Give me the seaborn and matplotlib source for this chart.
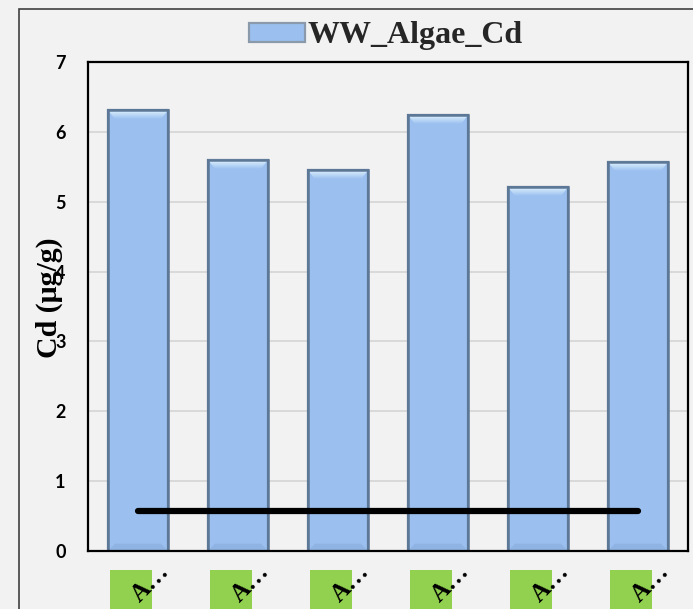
import numpy as np
import pandas as pd
import matplotlib
matplotlib.use("Agg")
import matplotlib.pyplot as plt
from matplotlib.patches import Rectangle, Polygon
from matplotlib.transforms import ScaledTranslation, blended_transform_factory
import seaborn as sns

# Cd concentration in algae (wet weight), one bar per site
site_labels = ["A…", "A…", "A…", "A…", "A…", "A…"]
cd_values = [6.31, 5.60, 5.45, 6.24, 5.21, 5.57]
series_name = "WW_Algae_Cd"
limit_value = 0.57
y_ticks = [0, 1, 2, 3, 4, 5, 6, 7]

bg = "#f2f2f2"
bar_fill = "#9bc0f0"
bar_edge = "#5c7896"

sns.set_theme(style="white")
plt.rcParams["font.family"] = ["Liberation Serif", "DejaVu Serif"]

fig = plt.figure(figsize=(6.93, 6.09), dpi=100, facecolor=bg)
ax = fig.add_axes([88 / 693, 1 - 551 / 609, 600 / 693, 489 / 609])
ax.set_facecolor(bg)

df = pd.DataFrame({"site": np.arange(len(cd_values)), "cd": cd_values})
sns.barplot(data=df, x="site", y="cd", ax=ax, color=bar_fill, width=0.6,
            edgecolor=bar_edge, linewidth=1.6, saturation=1, label=series_name,
            zorder=3)

ax.set_xlim(-0.5, len(cd_values) - 0.5)
ax.set_ylim(0, 7)

# bevelled highlight along the top of each bar
grad = np.linspace(0, 1, 64).reshape(-1, 1)
hi_cmap = matplotlib.colors.LinearSegmentedColormap.from_list(
    "bevel", ["#e8f8ff", bar_fill])
band = 0.13
for p in list(ax.patches):
    p.set_facecolor(bar_fill)
    x0, w, h = p.get_x(), p.get_width(), p.get_height()
    inset = 0.07
    poly = Polygon([(x0, h), (x0 + w, h), (x0 + w - inset, h - band),
                    (x0 + inset, h - band)], closed=True,
                   transform=ax.transData, facecolor="none", edgecolor="none")
    ax.add_patch(poly)
    im = ax.imshow(grad, cmap=hi_cmap, aspect="auto",
                   extent=(x0, x0 + w, h - band, h), origin="upper",
                   zorder=3.5, interpolation="bilinear")
    im.set_clip_path(poly)
    # darker shading at the foot of the bar
    foot = Polygon([(x0 + inset, band * 0.8), (x0 + w - inset, band * 0.8),
                    (x0 + w, 0), (x0, 0)], closed=True,
                   facecolor="#8fb3e2", edgecolor="none", zorder=3.4)
    ax.add_patch(foot)
    ax.add_patch(Rectangle((x0, 0), w, h, facecolor="none",
                           edgecolor=bar_edge, lw=1.8, zorder=3.6))

ax.set_xlim(-0.5, len(cd_values) - 0.5)
ax.set_ylim(0, 7)

# threshold line across the sites
ax.plot([0, len(cd_values) - 1], [limit_value, limit_value], color="black",
        lw=4.5, solid_capstyle="round", zorder=4)

ax.set_yticks(y_ticks)
ax.yaxis.grid(True, color="#d4d4d4", lw=1.2, zorder=0)
ax.set_axisbelow(True)
for s in ax.spines.values():
    s.set_visible(True)
    s.set_color("black")
    s.set_linewidth(1.6)
    s.set_zorder(5)

ax.tick_params(axis="both", length=0)
ax.tick_params(axis="y", pad=16)
ax.tick_params(axis="x", pad=12)
for t in ax.get_yticklabels():
    t.set_fontfamily("Lato")
    t.set_fontweight("bold")
    t.set_fontsize(13)
    t.set_color("black")

ax.set_xticks(range(len(site_labels)))
ax.set_xticklabels(site_labels, rotation=45, ha="right", va="center",
                   rotation_mode="anchor", fontsize=18, fontweight="bold",
                   color="black")
shift = ScaledTranslation(0.28, 0, fig.dpi_scale_trans)
for t in ax.get_xticklabels():
    t.set_transform(t.get_transform() + shift)

# green label badges under each site
trans = blended_transform_factory(ax.transData, ax.transAxes)
for i in range(len(site_labels)):
    ax.add_patch(Rectangle((i - 0.28, -0.15), 0.42, 0.111, transform=trans,
                           facecolor="#92d050", edgecolor="none",
                           clip_on=False, zorder=0.1))

ax.set_xlabel("")
ax.set_ylabel("Cd (μg/g)", fontsize=21.5, fontweight="bold", color="black")
ax.yaxis.set_label_coords(-0.042, 0.517)

leg = ax.legend(loc="center", bbox_to_anchor=(386 / 693, 1 - 36 / 609),
                bbox_transform=fig.transFigure, frameon=False,
                prop={"family": "Liberation Serif", "weight": "bold", "size": 23},
                handlelength=1.75, handleheight=0.55, handletextpad=0.1)
for h in leg.legend_handles:
    h.set_edgecolor("#8a9aaa")

# outer chart frame
fig.patches.append(Rectangle((19 / 693, -0.05), 1.1, 1 - 9 / 609 + 0.05,
                             transform=fig.transFigure, fill=False,
                             edgecolor="#404040", lw=1.2))

fig.savefig("out.png", dpi=100, facecolor=bg)
